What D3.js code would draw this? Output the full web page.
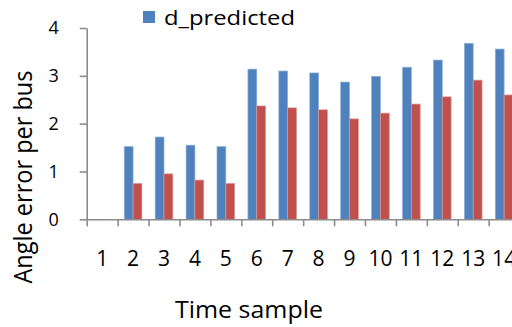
<!DOCTYPE html>
<html>
<head>
<meta charset="utf-8">
<script src="https://cdn.jsdelivr.net/npm/d3@7"></script>
<style>
  html, body { margin: 0; padding: 0; background: #fff; overflow: hidden; }
  svg { display: block; }
  text { font-family: "Open Sans", sans-serif; fill: #000; }
</style>
</head>
<body>
<svg id="chart" width="512" height="327"></svg>
<script>
const categories = ["1","2","3","4","5","6","7","8","9","10","11","12","13","14"];
const seriesNames = ["d_predicted", "d_actual"];
const dPredicted = [0, 1.52, 1.72, 1.55, 1.52, 3.14, 3.10, 3.06, 2.87, 2.99, 3.18, 3.33, 3.68, 3.56];
const dActual    = [0, 0.75, 0.95, 0.82, 0.75, 2.37, 2.33, 2.29, 2.10, 2.22, 2.41, 2.56, 2.91, 2.60];
const yTicks = [0, 1, 2, 3, 4];
const xTitle = "Time sample";
const yTitle = "Angle error per bus";

const colors = ["#4F81BD", "#C0504D"];
const strokes = ["#8FB0DA", "#DC9896"];

const svg = d3.select("#chart");
const x0 = 86.7, step = 30.92;
const x = d3.scaleBand().domain(categories).range([x0, x0 + step * categories.length]).paddingInner(0).paddingOuter(0);
const bw = x.bandwidth() / 3.5;
const xs = d3.scaleBand().domain(seriesNames).range([(x.bandwidth() - 2 * bw) / 2, (x.bandwidth() + 2 * bw) / 2]);
const y = d3.scaleLinear().domain([0, 4]).range([219.3, 28]);

const data = categories.map((c, i) => ({ c, vals: [dPredicted[i], dActual[i]] }));

// bars
const g = svg.append("g");
data.forEach(d => {
  d.vals.forEach((v, k) => {
    if (v <= 0) return;
    g.append("rect")
      .attr("x", x(d.c) + xs(seriesNames[k]))
      .attr("y", y(v))
      .attr("width", xs.bandwidth())
      .attr("height", y(0) - y(v))
      .attr("fill", colors[k])
      .attr("stroke", strokes[k])
      .attr("stroke-width", 0.7);
  });
});

// y axis
const yAxis = svg.append("g").attr("transform", `translate(${x0},0)`)
  .call(d3.axisLeft(y).tickValues(yTicks).tickSize(7).tickPadding(21).tickSizeOuter(0).tickFormat(d3.format("d")));
yAxis.selectAll("text").style("font-size", "18px").style("font-family", "Open Sans");
yAxis.selectAll("line, path").attr("stroke", "#8C8C8C").attr("stroke-width", 1.6);

// x axis: boundary tick marks
const xEdge = d3.scaleLinear().domain([0, categories.length]).range(x.range());
const xTickAxis = svg.append("g").attr("transform", `translate(0,${y(0)})`)
  .call(d3.axisBottom(xEdge).tickValues(d3.range(0, categories.length + 1)).tickSize(7).tickSizeOuter(0).tickFormat(""));
xTickAxis.selectAll("line, path").attr("stroke", "#8C8C8C").attr("stroke-width", 1.6);

// x axis labels
const xLab = svg.append("g").attr("transform", `translate(0,${y(0)})`)
  .call(d3.axisBottom(x).tickSize(0).tickPadding(32));
xLab.select(".domain").remove();
xLab.selectAll("text").style("font-size", "21px").style("font-family", "Open Sans");

// titles
svg.append("text")
  .attr("x", 249).attr("y", 318)
  .attr("text-anchor", "middle")
  .attr("textLength", 148).attr("lengthAdjust", "spacingAndGlyphs")
  .style("font-size", "23px")
  .text(xTitle);

svg.append("text")
  .attr("transform", "translate(31.5,177) rotate(-90)")
  .attr("text-anchor", "middle")
  .attr("textLength", 213).attr("lengthAdjust", "spacingAndGlyphs")
  .style("font-size", "25px")
  .text(yTitle);

// legend
const leg = svg.append("g");
leg.append("rect").attr("x", 143).attr("y", 11).attr("width", 12).attr("height", 12).attr("fill", colors[0]);
leg.append("text").attr("x", 164).attr("y", 25)
  .attr("textLength", 131).attr("lengthAdjust", "spacingAndGlyphs")
  .style("font-size", "20px")
  .text(seriesNames[0]);
</script>
</body>
</html>
